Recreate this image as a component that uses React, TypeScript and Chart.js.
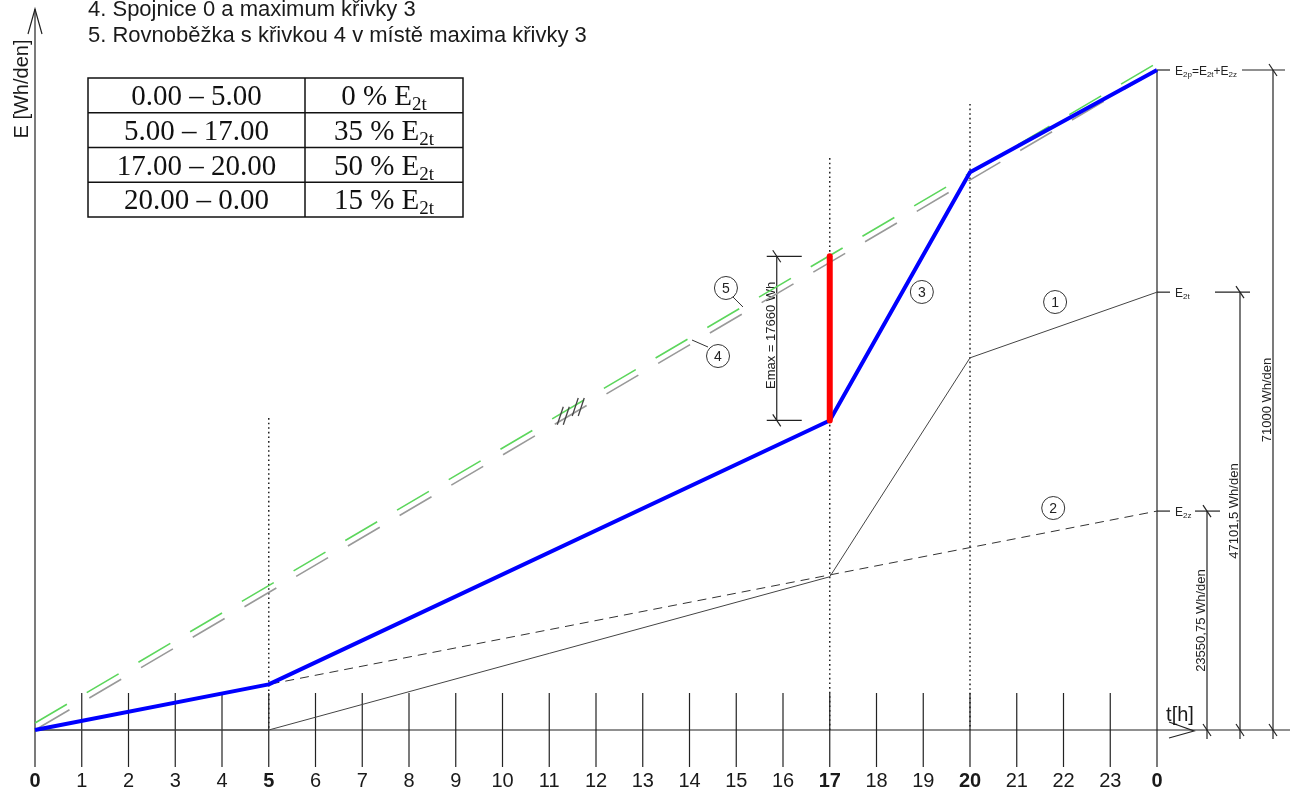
import React, { useEffect, useRef } from 'react';
import { Chart, registerables } from 'chart.js';

Chart.register(...registerables);

// ---- data ----
const HOURS = [0, 5, 17, 20, 24];
const E2T_CURVE = [0, 0, 16485, 40036, 47101.5]; // křivka 1
const E2Z_HOURS = [0, 24];
const E2Z_CURVE = [0, 23550.75]; // křivka 2
const E2P_CURVE = [0, 4906, 33300, 60000, 71000]; // křivka 3
const LINE_HOURS = [0, 24];
const LINE4 = [0, 71000]; // spojnice 0 a maxima křivky 3
const LINE5 = [750, 71750]; // rovnoběžka s křivkou 4
const EMAX_HOUR = 17;
const EMAX_RANGE = [33300, 50960];
const TICK_HOURS = Array.from({ length: 25 }, (_, i) => i);
const TICK_LABELS = ['0', '1', '2', '3', '4', '5', '6', '7', '8', '9', '10', '11', '12', '13', '14', '15', '16', '17', '18', '19', '20', '21', '22', '23', '0'];
const BOLD_TICKS = [0, 5, 17, 20, 24];
const DOTTED_HOURS = [5, 17, 20];
const DOTTED_TOPS = [33560, 61530, 67340];
const TABLE_RANGES = ['0.00 – 5.00', '5.00 – 17.00', '17.00 – 20.00', '20.00 – 0.00'];
const TABLE_SHARES = ['0', '35', '50', '15'];
const NOTE_LINES = ['4. Spojnice 0 a maximum křivky 3', '5. Rovnoběžka s křivkou 4 v místě maxima křivky 3'];
const DIM_VALUES = [23550.75, 47101.5, 71000];
const DIM_TEXTS = ['23550,75 Wh/den', '47101,5 Wh/den', '71000 Wh/den'];
const EMAX_TEXT = 'Emax = 17660 Wh';
const CIRCLE_LABELS = ['1', '2', '3', '4', '5'];
const CIRCLE_HOURS = [21.82, 21.78, 18.97, 14.61, 14.78];
const CIRCLE_VALUES = [46040, 23880, 47120, 40230, 47550];
const HATCH_HOURS = [11.3, 11.62];

const X_MIN = -35 / 46.75;
const X_MAX = (1298 - 35) / 46.75;
const Y_PER_PX = 71000 / 660;
const Y_MIN = -62 * Y_PER_PX;
const Y_MAX = 730 * Y_PER_PX;

const SANS = '"Liberation Sans", Arial, sans-serif';
const SERIF = '"Liberation Serif", "Times New Roman", serif';

type Part = [string, boolean];

function richWidth(ctx: CanvasRenderingContext2D, parts: Part[], size: number, sub: number, family: string) {
  let w = 0;
  for (const [t, s] of parts) {
    ctx.font = `${s ? sub : size}px ${family}`;
    w += ctx.measureText(t).width;
  }
  return w;
}

function drawRich(ctx: CanvasRenderingContext2D, x: number, y: number, parts: Part[], size: number, sub: number, family: string, align: 'left' | 'center', shift: number) {
  const w = richWidth(ctx, parts, size, sub, family);
  let cx = align === 'center' ? x - w / 2 : x;
  ctx.textAlign = 'left';
  ctx.textBaseline = 'alphabetic';
  for (const [t, s] of parts) {
    ctx.font = `${s ? sub : size}px ${family}`;
    ctx.fillText(t, cx, s ? y + shift : y);
    cx += ctx.measureText(t).width;
  }
}

function line(ctx: CanvasRenderingContext2D, x1: number, y1: number, x2: number, y2: number) {
  ctx.beginPath();
  ctx.moveTo(x1, y1);
  ctx.lineTo(x2, y2);
  ctx.stroke();
}

const diagramPlugin = {
  id: 'diagram',
  beforeDatasetsDraw(chart: any) {
    const ctx: CanvasRenderingContext2D = chart.ctx;
    const xs = chart.scales.x;
    const ys = chart.scales.y;
    const X = (h: number) => xs.getPixelForValue(h);
    const Y = (v: number) => ys.getPixelForValue(v);
    const x0 = X(0);
    const x24 = X(24);
    const y0 = Y(0);
    ctx.save();
    ctx.fillStyle = '#1a1a1a';

    // notes
    ctx.font = `22px ${SANS}`;
    ctx.textAlign = 'left';
    ctx.textBaseline = 'alphabetic';
    NOTE_LINES.forEach((t, i) => ctx.fillText(t, 88, 16 + i * 26));

    // table
    const tl = 88, tr = 463, tm = 305, tt = 78, rh = 34.75;
    ctx.strokeStyle = '#111';
    ctx.lineWidth = 1.5;
    ctx.strokeRect(tl, tt, tr - tl, rh * 4);
    line(ctx, tm, tt, tm, tt + rh * 4);
    for (let i = 1; i < 4; i++) line(ctx, tl, tt + rh * i, tr, tt + rh * i);
    ctx.fillStyle = '#111';
    TABLE_RANGES.forEach((t, i) => {
      const by = tt + rh * i + 27;
      drawRich(ctx, (tl + tm) / 2, by, [[t, false]], 29, 19, SERIF, 'center', 5);
      drawRich(ctx, (tm + tr) / 2, by, [[`${TABLE_SHARES[i]} % E`, false], ['2t', true]], 29, 19, SERIF, 'center', 5);
    });

    // y axis
    ctx.strokeStyle = '#222';
    ctx.lineWidth = 1.2;
    line(ctx, x0, 9, x0, 767);
    ctx.beginPath();
    ctx.moveTo(x0 - 7, 34);
    ctx.lineTo(x0, 9);
    ctx.lineTo(x0 + 7, 34);
    ctx.stroke();
    ctx.save();
    ctx.translate(22, 89);
    ctx.rotate(-Math.PI / 2);
    ctx.font = `20px ${SANS}`;
    ctx.textAlign = 'center';
    ctx.textBaseline = 'middle';
    ctx.fillStyle = '#1a1a1a';
    ctx.fillText('E [Wh/den]', 0, 0);
    ctx.restore();

    // x axis
    line(ctx, x0, y0, 1290, y0);
    ctx.beginPath();
    ctx.moveTo(x24 + 12, y0 - 8);
    ctx.lineTo(x24 + 37, y0 + 1);
    ctx.lineTo(x24 + 12, y0 + 8);
    ctx.stroke();
    ctx.font = `20px ${SANS}`;
    ctx.textAlign = 'center';
    ctx.textBaseline = 'alphabetic';
    ctx.fillStyle = '#1a1a1a';
    ctx.fillText('t[h]', x24 + 23, y0 - 9);

    // hour ticks and labels
    TICK_HOURS.forEach((h, i) => {
      const px = X(h);
      if (h > 0 && h < 24) line(ctx, px, 693, px, 767);
      const bold = BOLD_TICKS.includes(h);
      ctx.font = `${bold ? 'bold ' : ''}20px ${SANS}`;
      ctx.textAlign = 'center';
      ctx.textBaseline = 'middle';
      ctx.fillText(TICK_LABELS[i], px, 781);
    });

    // vertical at 24h
    line(ctx, x24, Y(DIM_VALUES[2]), x24, 767);

    // dotted verticals
    ctx.save();
    ctx.setLineDash([1.6, 3]);
    ctx.lineWidth = 1.5;
    ctx.strokeStyle = '#222';
    DOTTED_HOURS.forEach((h, i) => line(ctx, X(h), Y(DOTTED_TOPS[i]), X(h), y0));
    ctx.restore();

    // right-hand labels
    ctx.fillStyle = '#222';
    const yP = Y(DIM_VALUES[2]);
    const yT = Y(DIM_VALUES[1]);
    const yZ = Y(DIM_VALUES[0]);
    ctx.lineWidth = 1.2;
    line(ctx, x24, yP, x24 + 13, yP);
    line(ctx, x24, yT, x24 + 13, yT);
    line(ctx, x24, yZ, x24 + 13, yZ);
    drawRich(ctx, x24 + 18, yP + 5, [['E', false], ['2p', true], ['=E', false], ['2t', true], ['+E', false], ['2z', true]], 12, 8, SANS, 'left', 2);
    drawRich(ctx, x24 + 18, yT + 5, [['E', false], ['2t', true]], 12, 8, SANS, 'left', 2);
    drawRich(ctx, x24 + 18, yZ + 5, [['E', false], ['2z', true]], 12, 8, SANS, 'left', 2);

    // dimension lines
    const dimX = [x24 + 50, x24 + 83, x24 + 116];
    const dimH: [number, number][] = [[x24 + 38, x24 + 63], [x24 + 58, x24 + 93], [x24 + 85, x24 + 128]];
    DIM_VALUES.forEach((v, i) => {
      const dx = dimX[i];
      const yy = Y(v);
      line(ctx, dx, yy, dx, y0 + 9);
      line(ctx, dimH[i][0], yy, dimH[i][1], yy);
      line(ctx, dx - 4, yy - 6, dx + 4, yy + 6);
      line(ctx, dx - 4, y0 - 6, dx + 4, y0 + 6);
      ctx.save();
      ctx.translate(dx - 2, (yy + y0) / 2);
      ctx.rotate(-Math.PI / 2);
      ctx.font = `13px ${SANS}`;
      ctx.textAlign = 'center';
      ctx.textBaseline = 'alphabetic';
      ctx.fillText(DIM_TEXTS[i], 0, 0);
      ctx.restore();
    });

    // Emax dimension
    const ex = X(EMAX_HOUR) - 53;
    const eyb = Y(EMAX_RANGE[0]);
    const eyt = Y(EMAX_RANGE[1]);
    line(ctx, ex, eyt, ex, eyb);
    line(ctx, ex - 10, eyt, ex + 25, eyt);
    line(ctx, ex - 10, eyb, ex + 25, eyb);
    line(ctx, ex - 4, eyt - 6, ex + 4, eyt + 6);
    line(ctx, ex - 4, eyb - 6, ex + 4, eyb + 6);
    ctx.save();
    ctx.translate(ex - 2, (eyt + eyb) / 2 - 3);
    ctx.rotate(-Math.PI / 2);
    ctx.font = `13px ${SANS}`;
    ctx.textAlign = 'center';
    ctx.textBaseline = 'alphabetic';
    ctx.fillText(EMAX_TEXT, 0, 0);
    ctx.restore();

    ctx.restore();
  },
  afterDatasetsDraw(chart: any) {
    const ctx: CanvasRenderingContext2D = chart.ctx;
    const xs = chart.scales.x;
    const ys = chart.scales.y;
    const X = (h: number) => xs.getPixelForValue(h);
    const Y = (v: number) => ys.getPixelForValue(v);
    ctx.save();
    ctx.strokeStyle = '#333';
    ctx.fillStyle = '#222';
    ctx.lineWidth = 1;
    CIRCLE_LABELS.forEach((t, i) => {
      const cx = X(CIRCLE_HOURS[i]);
      const cy = Y(CIRCLE_VALUES[i]);
      ctx.beginPath();
      ctx.arc(cx, cy, 11.5, 0, Math.PI * 2);
      ctx.stroke();
      ctx.font = `14px ${SANS}`;
      ctx.textAlign = 'center';
      ctx.textBaseline = 'middle';
      ctx.fillText(t, cx, cy + 1);
    });
    // leaders for 4 and 5
    const c4x = X(CIRCLE_HOURS[3]), c4y = Y(CIRCLE_VALUES[3]);
    const c5x = X(CIRCLE_HOURS[4]), c5y = Y(CIRCLE_VALUES[4]);
    line(ctx, c5x + 7, c5y + 9, c5x + 17, c5y + 19);
    line(ctx, c4x - 10, c4y - 9, c4x - 26, c4y - 16);

    // break marks on lines 4/5
    ctx.strokeStyle = '#444';
    ctx.lineWidth = 1.3;
    HATCH_HOURS.forEach((h) => {
      const v = (LINE4[0] + LINE5[0]) / 2 + (h / 24) * (LINE4[1] - LINE4[0]);
      const cx = X(h);
      const cy = Y(v);
      [-3, 3].forEach((o) => line(ctx, cx + o + 3, cy - 9, cx + o - 3, cy + 9));
    });
    ctx.restore();
  },
};

export default function App() {
  const ref = useRef<HTMLCanvasElement | null>(null);
  useEffect(() => {
    if (!ref.current) return;
    const pts = (hs: number[], vs: number[]) => hs.map((h, i) => ({ x: h, y: vs[i] }));
    const chart = new Chart(ref.current, {
      type: 'scatter',
      data: {
        datasets: [
          { label: 'Emax', data: pts([EMAX_HOUR, EMAX_HOUR], EMAX_RANGE), showLine: true, borderColor: '#ff0000', borderWidth: 6, borderCapStyle: 'round', pointRadius: 0, order: 0 },
          { label: '3', data: pts(HOURS, E2P_CURVE), showLine: true, borderColor: '#0000ff', borderWidth: 4, borderJoinStyle: 'round', pointRadius: 0, order: 1 },
          { label: '1', data: pts(HOURS, E2T_CURVE), showLine: true, borderColor: '#444', borderWidth: 1, pointRadius: 0, order: 2 },
          { label: '2', data: pts(E2Z_HOURS, E2Z_CURVE), showLine: true, borderColor: '#333', borderWidth: 1, borderDash: [9, 6], pointRadius: 0, order: 3 },
          { label: '4', data: pts(LINE_HOURS, LINE4), showLine: true, borderColor: '#999', borderWidth: 1.6, borderDash: [37, 23], borderDashOffset: -3, pointRadius: 0, order: 4 },
          { label: '5', data: pts(LINE_HOURS, LINE5), showLine: true, borderColor: '#5cd65c', borderWidth: 1.6, borderDash: [37, 23], pointRadius: 0, order: 5 },
        ],
      },
      options: {
        animation: false,
        responsive: false,
        events: [],
        layout: { padding: 0 },
        plugins: { legend: { display: false }, tooltip: { enabled: false } },
        scales: {
          x: { type: 'linear', min: X_MIN, max: X_MAX, display: false },
          y: { type: 'linear', min: Y_MIN, max: Y_MAX, display: false },
        },
      },
      plugins: [diagramPlugin],
    } as any);
    return () => chart.destroy();
  }, []);
  return (
    <div style={{ position: 'fixed', left: 0, top: 0, width: 1298, height: 792, background: '#fff' }}>
      <canvas ref={ref} width={1298} height={792} />
    </div>
  );
}
